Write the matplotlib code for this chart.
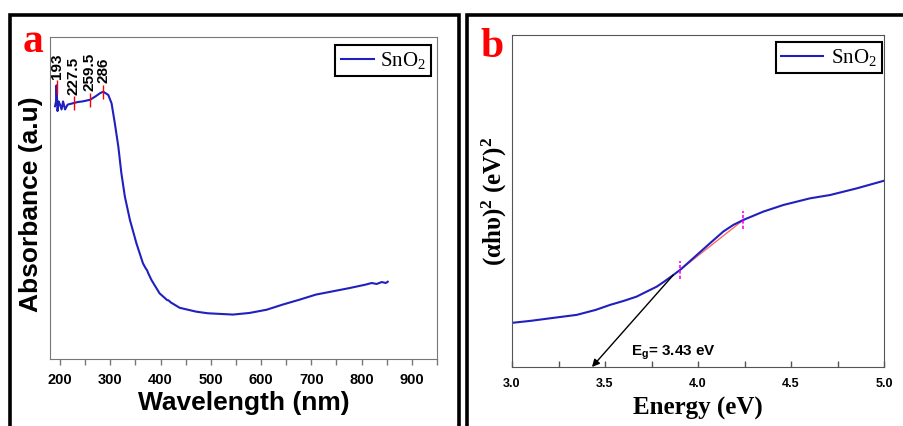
import matplotlib
matplotlib.use("Agg")
import matplotlib.pyplot as plt
from matplotlib.patches import Rectangle
from matplotlib.ticker import MultipleLocator

# panel a: UV-vis absorbance of SnO2
wavelength = [190, 192, 193, 195, 197, 200, 203, 206, 210, 215, 220, 227.5, 235, 245,
              259.5, 270, 280, 286, 296, 302.5, 309, 316, 322, 329, 339, 352, 365, 371,
              373, 375, 382, 398, 413, 416, 420, 438, 471, 494, 544, 577, 611, 643, 676,
              709, 742, 775, 808, 820, 830, 840, 848, 852]
absorbance = [0.785, 0.80, 0.85, 0.77, 0.80, 0.79, 0.775, 0.80, 0.775, 0.79, 0.792, 0.795,
              0.798, 0.80, 0.805, 0.815, 0.826, 0.830, 0.820, 0.794, 0.732, 0.659, 0.577,
              0.504, 0.432, 0.359, 0.297, 0.280, 0.276, 0.268, 0.245, 0.204, 0.183, 0.182,
              0.176, 0.159, 0.147, 0.142, 0.138, 0.143, 0.153, 0.169, 0.184, 0.200, 0.210,
              0.220, 0.231, 0.236, 0.233, 0.239, 0.236, 0.240]
peak_wl = [193, 227.5, 259.5, 286]
peak_abs = [0.845, 0.795, 0.805, 0.830]
peak_labels = ["193", "227.5", "259.5", "286"]

# panel b: Tauc plot
energy = [3.0, 3.1, 3.168, 3.25, 3.348, 3.45, 3.527, 3.6, 3.670, 3.72, 3.778, 3.82, 3.867,
          3.903, 3.993, 4.065, 4.136, 4.19, 4.244, 4.351, 4.459, 4.602, 4.710, 4.853, 5.0]
ahv2 = [0.133, 0.139, 0.144, 0.150, 0.157, 0.172, 0.187, 0.199, 0.212, 0.226, 0.242,
        0.258, 0.277, 0.292, 0.337, 0.373, 0.408, 0.428, 0.443, 0.468, 0.488, 0.508,
        0.518, 0.538, 0.561]
fit_energy = [3.903, 4.244]
fit_ahv2 = [0.292, 0.443]
eg = 3.43

blue = "#2020bf"

plt.rcParams["font.weight"] = "bold"
plt.rcParams["axes.labelweight"] = "bold"
plt.rcParams["mathtext.fontset"] = "custom"
plt.rcParams["mathtext.rm"] = "Liberation Serif:bold"
plt.rcParams["mathtext.it"] = "Liberation Serif:italic"
plt.rcParams["mathtext.bf"] = "Liberation Serif:bold"
plt.rcParams["mathtext.sf"] = "Liberation Sans:bold"

W, H = 904, 426
fig = plt.figure(figsize=(W / 100, H / 100), dpi=100)


def box(l, t, r, b):
    return [l / W, 1 - b / H, (r - l) / W, (b - t) / H]


# outer panel frames
fig.add_artist(Rectangle((10 / W, -0.1), 449 / W, 1.1 - 15 / H, transform=fig.transFigure,
                         fill=False, ec="black", lw=2.6))
fig.add_artist(Rectangle((467 / W, -0.1), 0.6, 1.1 - 15 / H, transform=fig.transFigure,
                         fill=False, ec="black", lw=2.6))

fig.text(23 / W, 1 - 52 / H, "a", color="red", fontsize=30, fontweight="bold",
         family="Liberation Serif")
fig.text(480 / W, 1 - 57 / H, "b", color="red", fontsize=30, fontweight="bold",
         family="Liberation Serif")

legend_prop = {"family": "Liberation Serif", "size": 15, "weight": "normal"}

# ---- panel a
ax1 = fig.add_axes(box(50, 37, 437, 359))
ax1.plot(wavelength, absorbance, color=blue, lw=1.5, label="SnO$_\\mathregular{2}$")
ax1.plot(peak_wl, peak_abs, ls="none", marker="|", ms=10, mew=1, color="red")
for x, y, t in zip(peak_wl, peak_abs, peak_labels):
    ax1.annotate(t, (x, y), xytext=(0, 6), textcoords="offset points", rotation=90,
                 ha="center", va="bottom", fontsize=11, fontweight="bold",
                 family="Liberation Sans")
ax1.set_xlim(180, 950)
ax1.set_ylim(0, 1)
ax1.set_yticks([])
ax1.xaxis.set_major_locator(MultipleLocator(100))
ax1.xaxis.set_minor_locator(MultipleLocator(50))
ax1.tick_params(axis="x", which="both", direction="out", length=4, width=1, color="#777",
                pad=6, labelsize=10.5)
for s in ax1.spines.values():
    s.set_color("#777")
for lbl in ax1.get_xticklabels():
    lbl.set_family("Liberation Sans")
    lbl.set_fontweight("bold")
ax1.set_ylabel("Absorbance (a.u)", fontsize=19, fontweight="bold",
               family="Liberation Sans")
ax1.yaxis.set_label_coords(-0.018, 0.481)
ax1.set_xlabel("Wavelength (nm)", fontsize=19, fontweight="bold",
               family="Liberation Sans", labelpad=3)
leg1 = ax1.legend(loc="upper right", bbox_to_anchor=(0.985, 0.975), fancybox=False,
                  edgecolor="black", framealpha=1, prop=legend_prop, handlelength=1.6,
                  borderpad=0.25, handletextpad=0.3, borderaxespad=0)
leg1.get_frame().set_linewidth(1.5)

# ---- panel b
ax2 = fig.add_axes(box(512, 35, 884, 367))
ax2.plot(fit_energy, fit_ahv2, color="#ff6a6a", lw=1)
ax2.plot(energy, ahv2, color=blue, lw=1.5, label="SnO$_\\mathregular{2}$")
ax2.vlines(fit_energy, [v - 0.028 for v in fit_ahv2], [v + 0.028 for v in fit_ahv2],
           colors="magenta", linestyles=(0, (2, 1.2)), lw=1.2)
ax2.annotate("", xy=(eg, 0), xytext=(3.867, 0.277),
             arrowprops=dict(arrowstyle="-|>", color="black", lw=1, mutation_scale=11,
                             shrinkA=0, shrinkB=0))
ax2.text(3.64, 0.035, r"$\mathsf{E_g}$= 3.43 eV", fontsize=11, fontweight="bold",
         family="Liberation Sans")
ax2.set_xlim(3, 5)
ax2.set_ylim(0, 1)
ax2.set_yticks([])
ax2.xaxis.set_major_locator(MultipleLocator(0.5))
ax2.xaxis.set_minor_locator(MultipleLocator(0.25))
ax2.tick_params(axis="x", which="both", direction="in", length=4, width=1, color="#555",
                pad=8, labelsize=9)
for s in ax2.spines.values():
    s.set_color("#555")
for lbl in ax2.get_xticklabels():
    lbl.set_family("Liberation Sans")
    lbl.set_fontweight("bold")
ax2.set_ylabel(r"(αhυ)$^\mathbf{2}$ (eV)$^\mathbf{2}$", fontsize=18, fontweight="bold",
               family="Liberation Serif", labelpad=2)
ax2.set_xlabel("Energy (eV)", fontsize=18, fontweight="bold",
               family="Liberation Serif", labelpad=5)
leg2 = ax2.legend(loc="upper right", bbox_to_anchor=(0.995, 0.979), fancybox=False,
                  edgecolor="black", framealpha=1, prop=legend_prop, handlelength=2.0,
                  borderpad=0.25, handletextpad=0.4, borderaxespad=0)
leg2.get_frame().set_linewidth(1.5)

fig.savefig("out.png", dpi=100)
